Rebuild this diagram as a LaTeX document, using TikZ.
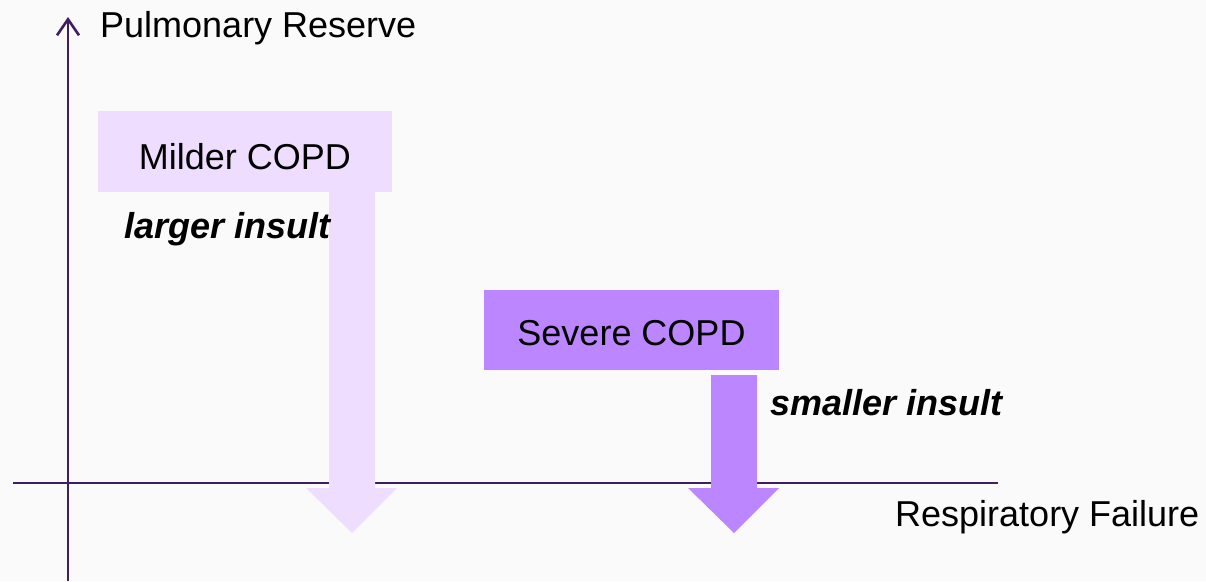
\documentclass[tikz,border=0pt]{standalone}
\usepackage{fontspec}
\setmainfont{Liberation Sans}
\usetikzlibrary{arrows.meta}
\definecolor{bgcol}{HTML}{FAFAFA}
\definecolor{axiscol}{HTML}{3F1F5F}
\definecolor{mildcol}{HTML}{EEDDFF}
\definecolor{sevcol}{HTML}{BB86FF}
\tikzset{
  axis/.style={draw=axiscol, line width=2.6pt},
  label/.style={inner sep=0pt, font=\fontsize{36}{43}\selectfont, text=black},
  insult/.style={label, font=\fontsize{36}{43}\selectfont\bfseries\itshape},
  stagebox/.style={label, minimum width=294pt, minimum height=81pt, text depth=0pt},
  blockarrow/.style={draw=none}
}
\begin{document}
\begin{tikzpicture}[x=1pt,y=-1pt]
  % canvas
  \fill[bgcol] (0,0) rectangle (1206,581);
  \useasboundingbox (0,0) rectangle (1206,581);

  % axes
  \coordinate (ybot) at (68,581);
  \coordinate (ytop) at (68,17);
  \coordinate (xleft) at (13,483);
  \coordinate (xright) at (998,483);
  \draw[axis] (xleft) -- (xright);
  \draw[axis, -{Straight Barb[length=16pt,width=22pt]}] (ybot) -- (ytop);

  % stage boxes
  \node[stagebox, fill=mildcol, text height=35pt] (mild) at (245,151.5) {Milder COPD};
  \node[stagebox, fill=sevcol, text height=30pt, minimum width=295pt, minimum height=80pt] (severe) at (631.5,330) {Severe COPD};

  % insult arrows
  \coordinate (tip1) at (352,533);
  \coordinate (tip2) at (734,533);
  \fill[mildcol] (mild.south -| 329,0) -- (375,192) -- (375,488) -- (397,488)
     -- (tip1) -- (306,488) -- (329,488) -- cycle;
  \fill[sevcol] (711,375) -- (757,375) -- (757,488) -- (779,488)
     -- (tip2) -- (688,488) -- (711,488) -- cycle;

  % labels
  \node[label, anchor=base west] (ylab) at (100,37) {Pulmonary Reserve};
  \node[label, anchor=base west] (xlab) at (895,526) {Respiratory Failure};
  \node[insult, anchor=base west] (large) at (124,238) {larger insult};
  \node[insult, anchor=base west] (small) at (770,415) {smaller insult};
\end{tikzpicture}
\end{document}
